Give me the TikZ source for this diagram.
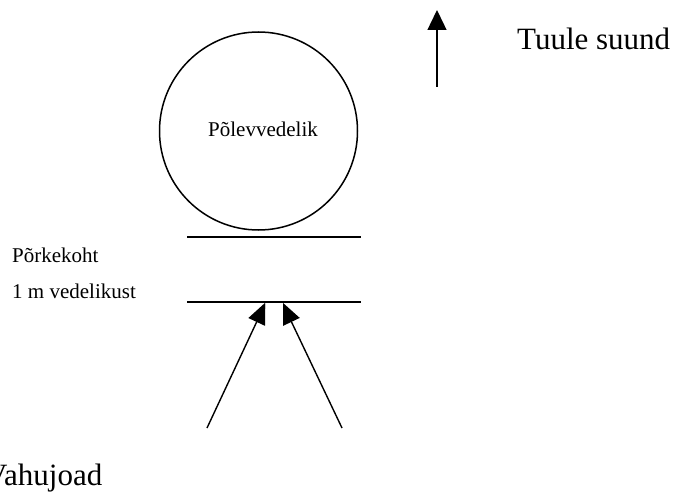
\documentclass[tikz,border=0pt]{standalone}
\usepackage{fontspec}
\setmainfont{Liberation Serif}
\usetikzlibrary{arrows.meta}
\begin{document}
\begin{tikzpicture}[x=1pt,y=-1pt,
  lbl/.style={anchor=base west,inner sep=0pt,font=\fontsize{21}{25}\selectfont},
  biglbl/.style={anchor=base west,inner sep=0pt,font=\fontsize{31}{36}\selectfont},
  tank/.style={draw,line width=1.5pt,circle,minimum size=198pt,inner sep=0pt},
  barline/.style={line width=1.6pt},
  windarrow/.style={line width=1.4pt,-{Triangle[length=20pt,width=19pt]}},
  jet/.style={line width=1.4pt,-{Triangle[length=22pt,width=18pt]}}]
\useasboundingbox (0,0) rectangle (675,492);
\node[tank] (tank) at (258.5,131) {};
\node[lbl] (liq) at (208,137) {Põlevvedelik};
\coordinate (l1a) at (187,237); \coordinate (l1b) at (361,237);
\coordinate (l2a) at (187,302); \coordinate (l2b) at (361,302);
\draw[barline] (l1a) -- (l1b);
\draw[barline] (l2a) -- (l2b);
\node[lbl] (pk) at (12,262) {Põrkekoht};
\node[lbl] (dist) at (12,298) {1 m vedelikust};
\coordinate (w0) at (437,87); \coordinate (w1) at (437,10);
\draw[windarrow] (w0) -- (w1);
\node[biglbl] (wind) at (517,50) {Tuule suund};
\coordinate (j1s) at (207,428); \coordinate (j1t) at (266,302);
\coordinate (j2s) at (342,428); \coordinate (j2t) at (282,302);
\begin{scope}
  \clip (0,303) rectangle (265,492) (283,303) rectangle (675,492);
  \draw[jet] (j1s) -- (j1t);
  \draw[jet] (j2s) -- (j2t);
\end{scope}
\node[biglbl] (foam) at (-15,485) {Vahujoad};
\end{tikzpicture}
\end{document}
